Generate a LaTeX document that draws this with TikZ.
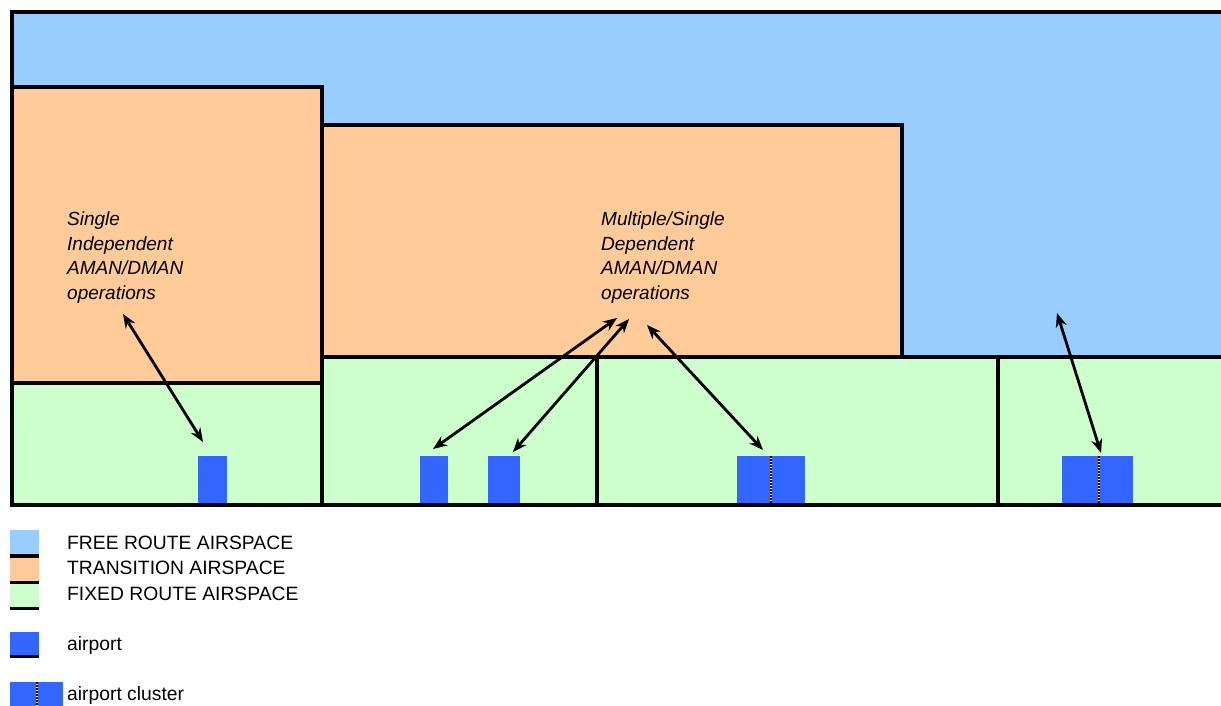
\documentclass[tikz,border=0pt]{standalone}
\usepackage{fontspec}
\setmainfont{Liberation Sans}
\usetikzlibrary{arrows.meta}
\definecolor{freeroute}{HTML}{99CCFF}
\definecolor{transition}{HTML}{FFCC99}
\definecolor{fixedroute}{HTML}{CCFFCC}
\definecolor{airportblue}{HTML}{3366FF}
\begin{document}
\begin{tikzpicture}[x=1pt,y=-1pt,
  zone/.style={draw=black,line width=4.6pt,line join=miter},
  airport/.style={fill=airportblue,draw=none},
  clusterline/.style={draw=white,line width=2.8pt},
  clusterdash/.style={draw=black,line width=2.8pt,dash pattern=on 1.5pt off 1.5pt},
  link/.style={draw=black,line width=2.8pt,{Stealth[length=14pt,width=11pt]}-{Stealth[length=14pt,width=11pt]}},
  label/.style={font=\fontsize{19}{24.5}\selectfont\itshape,align=left,anchor=base west,inner sep=0pt},
  legendtext/.style={font=\fontsize{19.3}{23}\selectfont,anchor=base west,inner sep=0pt},
  swatchbar/.style={fill=black,draw=none}]
\useasboundingbox (0,0) rectangle (1221,706);
\begin{scope}
\clip (0,0) rectangle (1221,706);
% free route airspace (upper level)
\fill[freeroute] (12,12) rectangle (1240,505);
\draw[zone] (1240,12) -- (12,12) -- (12,505);
% transition airspace blocks
\draw[zone,fill=transition] (12,87) rectangle (322,383);
\draw[zone,fill=transition] (322,125) rectangle (902,357);
% fixed route airspace sectors
\draw[zone,fill=fixedroute] (12,383) rectangle (322,505);
\draw[zone,fill=fixedroute] (322,357) rectangle (597,505);
\draw[zone,fill=fixedroute] (597,357) rectangle (998,505);
\draw[zone,fill=fixedroute] (998,357) rectangle (1240,505);
\end{scope}

% airports
\fill[airport] (198,456) rectangle (227,503);
\fill[airport] (420,456) rectangle (448,503);
\fill[airport] (488,456) rectangle (520,503);
% airport clusters
\fill[airport] (737,456) rectangle (805,503);
\draw[clusterline] (771,456) -- (771,503);
\draw[clusterdash] (771,456) -- (771,503);
\fill[airport] (1062,456) rectangle (1133,503);
\draw[clusterline] (1099,456) -- (1099,503);
\draw[clusterdash] (1099,456) -- (1099,503);

% operation labels (base anchor sits on the last line)
\node[label] (single) at (67,299) {Single\\Independent\\AMAN/DMAN\\operations};
\node[label] (multi) at (601,299) {Multiple/Single\\Dependent\\AMAN/DMAN\\operations};

% arrow end points
\coordinate (s1) at (123,314);  \coordinate (a1) at (203,442);
\coordinate (m1) at (617,318);  \coordinate (a2) at (433,449);
\coordinate (m2) at (629,319);  \coordinate (a3) at (513,452);
\coordinate (m3) at (647,325);  \coordinate (c1) at (763,450);
\coordinate (f1) at (1057,313); \coordinate (c2) at (1101,453);
\draw[link] (s1) -- (a1);
\draw[link] (m1) -- (a2);
\draw[link] (m2) -- (a3);
\draw[link] (m3) -- (c1);
\draw[link] (f1) -- (c2);

% legend
\fill[freeroute] (10,530) rectangle (39,554);
\fill[swatchbar] (10,554) rectangle (39,557.5);
\fill[transition] (10,557.5) rectangle (39,581);
\fill[swatchbar] (10,581) rectangle (39,584);
\fill[fixedroute] (10,584) rectangle (39,607);
\fill[swatchbar] (10,607) rectangle (39,610);
\fill[airportblue] (10,632) rectangle (39,655);
\fill[swatchbar] (10,655) rectangle (39,658);
\fill[airportblue] (10,682) rectangle (63,706);
\draw[clusterline] (37,682) -- (37,706);
\draw[clusterdash] (37,682) -- (37,706);
\node[legendtext] (lfree) at (67,549) {FREE ROUTE AIRSPACE};
\node[legendtext] (ltrans) at (67,574) {TRANSITION AIRSPACE};
\node[legendtext] (lfixed) at (67,600) {FIXED ROUTE AIRSPACE};
\node[legendtext] (lair) at (67,650) {airport};
\node[legendtext] (lclus) at (67,700) {airport cluster};
\end{tikzpicture}
\end{document}
